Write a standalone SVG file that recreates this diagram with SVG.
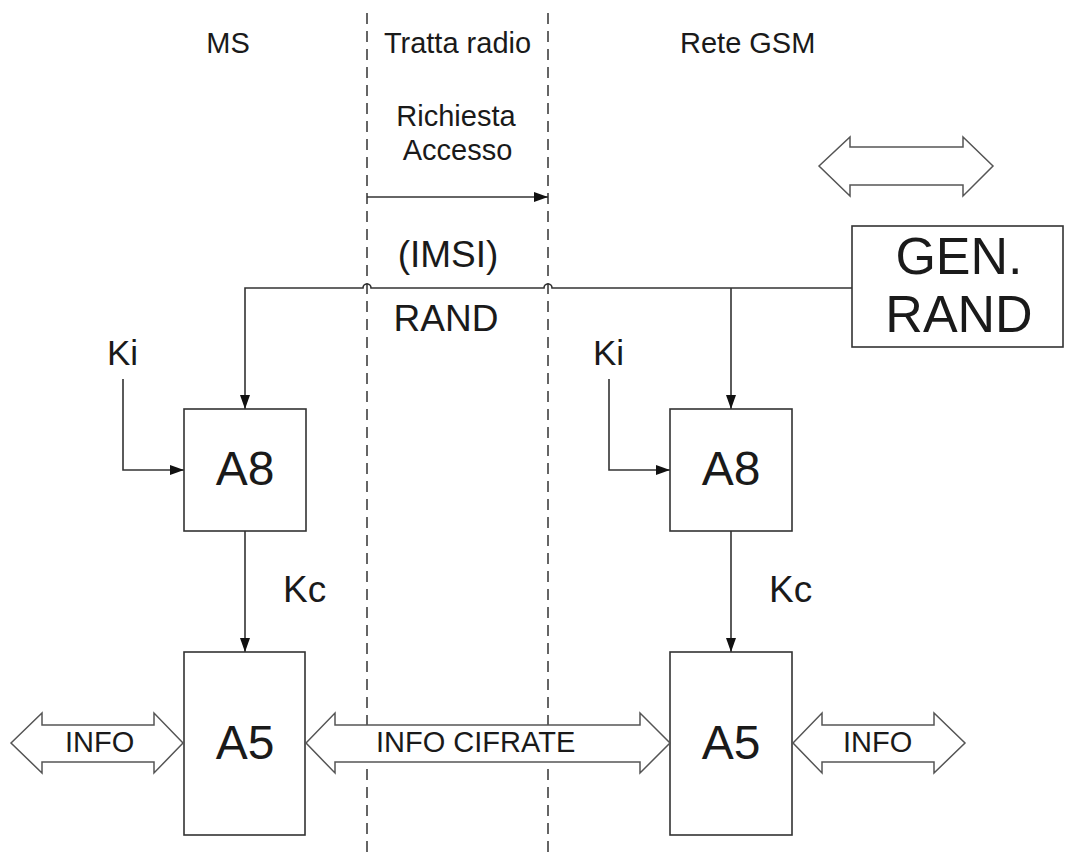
<svg xmlns="http://www.w3.org/2000/svg" width="1065" height="859" viewBox="0 0 1065 859">
<defs>
<style>
text{font-family:"Liberation Sans",Arial,sans-serif;fill:#1a1a1a}
.box{fill:#fff;stroke:#333;stroke-width:1.6}
.ln{fill:none;stroke:#333;stroke-width:1.6}
.dash{fill:none;stroke:#555;stroke-width:1.8;stroke-dasharray:11 7}
.barrow{fill:#fff;stroke:#555;stroke-width:1.5;stroke-linejoin:miter}
.big{font-size:48px}
.lbl{font-size:29px}
</style>
<marker id="ah" viewBox="0 0 14 10" refX="14" refY="5" markerWidth="14" markerHeight="10" markerUnits="userSpaceOnUse" orient="auto">
<path d="M0,0 L14,5 L0,10 z" fill="#111"/>
</marker>
</defs>
<rect width="1065" height="859" fill="#fff"/>

<g id="lanes">
<line class="dash" x1="367" y1="13" x2="367" y2="859"/>
<line class="dash" x1="548" y1="13" x2="548" y2="859"/>
<text class="lbl" x="228" y="53" text-anchor="middle">MS</text>
<text class="lbl" x="457.5" y="53" text-anchor="middle">Tratta radio</text>
<text class="lbl" x="680" y="53">Rete GSM</text>
</g>

<g id="connectors">
<text class="lbl" x="456" y="126" text-anchor="middle">Richiesta</text>
<text class="lbl" x="457.5" y="160" text-anchor="middle">Accesso</text>
<line class="ln" x1="367" y1="197" x2="548" y2="197" marker-end="url(#ah)"/>
<text x="448" y="267" text-anchor="middle" font-size="37">(IMSI)</text>
<text x="446" y="331" text-anchor="middle" font-size="37">RAND</text>
<path class="ln" d="M852,288 H552 a4,4 0 0 0 -8,0 H371 a4,4 0 0 0 -8,0 H245 V409" marker-end="url(#ah)"/>
<path class="ln" d="M731,288 V409" marker-end="url(#ah)"/>
<text x="107" y="365" font-size="35">Ki</text>
<path class="ln" d="M123,379 V470 H184" marker-end="url(#ah)"/>
<text x="593" y="365" font-size="35">Ki</text>
<path class="ln" d="M609,379 V470 H670" marker-end="url(#ah)"/>
<path class="ln" d="M245,531 V652" marker-end="url(#ah)"/>
<text x="283" y="602" font-size="37">Kc</text>
<path class="ln" d="M731,531 V652" marker-end="url(#ah)"/>
<text x="769" y="602" font-size="37">Kc</text>
</g>

<g id="top-arrow">
<path class="barrow" d="M819,166 L850,137 V147 H963 V137 L993,166 L963,196 V185 H850 V196 z"/>
</g>

<g id="gen-rand">
<rect class="box" x="852" y="226" width="211" height="121"/>
<text x="959" y="274" text-anchor="middle" font-size="52">GEN.</text>
<text x="959" y="332" text-anchor="middle" font-size="52">RAND</text>
</g>

<g id="a8-ms">
<rect class="box" x="184" y="409" width="122" height="122"/>
<text class="big" x="245" y="485" text-anchor="middle">A8</text>
</g>
<g id="a8-net">
<rect class="box" x="670" y="409" width="122" height="122"/>
<text class="big" x="731" y="485" text-anchor="middle">A8</text>
</g>
<g id="a5-ms">
<rect class="box" x="184" y="652" width="121" height="183"/>
<text class="big" x="245" y="759" text-anchor="middle">A5</text>
</g>
<g id="a5-net">
<rect class="box" x="670" y="652" width="122" height="183"/>
<text class="big" x="731" y="759" text-anchor="middle">A5</text>
</g>

<g id="info-ms">
<path class="barrow" d="M11,743 L42,713 V725 H154 V713 L183,743 L154,773 V762 H42 V773 z"/>
<text class="lbl" x="65" y="752">INFO</text>
</g>
<g id="info-cifrate">
<path class="barrow" d="M306,743 L335,713 V725 H640 V713 L670,743 L640,773 V762 H335 V773 z"/>
<text class="lbl" x="376" y="752">INFO CIFRATE</text>
</g>
<g id="info-net">
<path class="barrow" d="M793,743 L822,713 V725 H934 V713 L965,743 L934,773 V762 H822 V773 z"/>
<text class="lbl" x="843" y="752">INFO</text>
</g>
</svg>
